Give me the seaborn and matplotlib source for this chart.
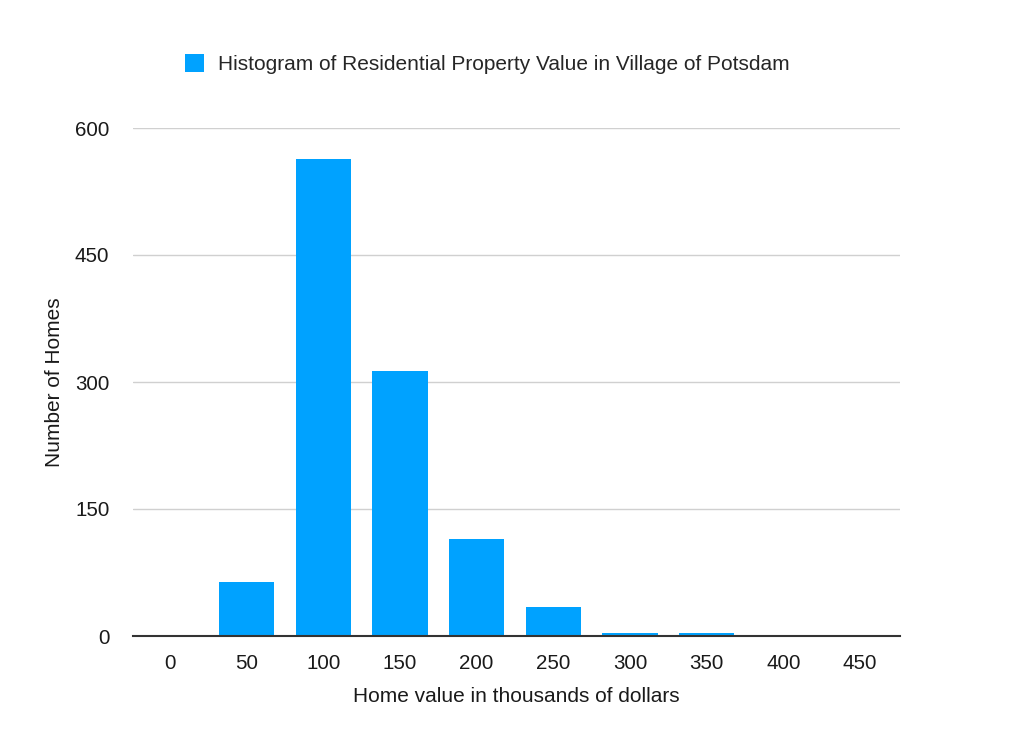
import matplotlib
matplotlib.use("Agg")
import matplotlib.pyplot as plt
import seaborn as sns
import pandas as pd
from matplotlib.patches import Patch

categories = ["0", "50", "100", "150", "200", "250", "300", "350", "400", "450"]
counts = [0, 64, 563, 313, 115, 34, 4, 4, 1, 0]
y_ticks = [0, 150, 300, 450, 600]
series_name = "Histogram of Residential Property Value in Village of Potsdam"

sns.set_theme(style="white")
plt.rcParams["font.family"] = ["Liberation Sans", "DejaVu Sans"]

color = "#00A2FF"
df = pd.DataFrame({"value": categories, "count": counts})

fig = plt.figure(figsize=(10.23, 7.44), dpi=100)
ax = fig.add_axes([133 / 1023, 1 - 636 / 744, (900 - 133) / 1023, (636 - 128) / 744])

sns.barplot(data=df, x="value", y="count", order=categories, color=color,
            saturation=1, width=0.72, ax=ax, edgecolor="none")

ax.set_ylim(0, 600)
ax.set_xlim(-0.48, 9.52)
ax.set_yticks(y_ticks)
ax.set_yticklabels([str(t) for t in y_ticks])
ax.grid(axis="y", color="#d0d0d0", linewidth=1)
ax.set_axisbelow(True)
for s in ["top", "right", "left"]:
    ax.spines[s].set_visible(False)
ax.spines["bottom"].set_color("#333333")
ax.spines["bottom"].set_linewidth(1.5)
ax.spines["bottom"].set_zorder(5)
ax.tick_params(axis="both", length=0, labelsize=14.8, colors="#1a1a1a")
ax.tick_params(axis="x", pad=13)
ax.tick_params(axis="y", pad=17)
ax.set_xlabel("Home value in thousands of dollars", fontsize=15, color="#1a1a1a", labelpad=10)
ax.set_ylabel("Number of Homes", fontsize=15, color="#1a1a1a", labelpad=8)

handle = Patch(facecolor=color, edgecolor="none")
fig.legend([handle], [series_name], loc="center", bbox_to_anchor=(487 / 1023, 1 - 64 / 744),
           frameon=False, fontsize=15, handlelength=0.95, handleheight=0.95, handletextpad=0.65)

fig.savefig("out.png", dpi=100)
